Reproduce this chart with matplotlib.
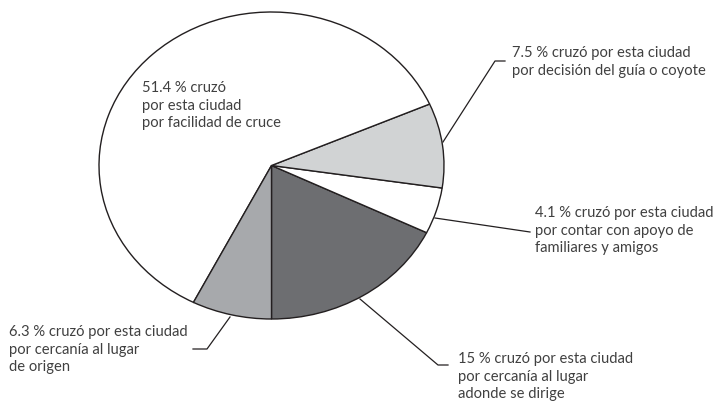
import matplotlib.pyplot as plt

# slice values (%) in drawing order, counter-clockwise from straight down
valores = [15, 4.1, 7.5, 51.4, 6.3]
colores = ['#6d6e71', '#ffffff', '#d1d3d4', '#ffffff', '#a7a9ac']

etiquetas = [
    '15 % cruzó por esta ciudad\npor cercanía al lugar\nadonde se dirige',
    '4.1 % cruzó por esta ciudad\npor contar con apoyo de\nfamiliares y amigos',
    '7.5 % cruzó por esta ciudad\npor decisión del guía o coyote',
    '51.4 % cruzó\npor esta ciudad\npor facilidad de cruce',
    '6.3 % cruzó por esta ciudad\npor cercanía al lugar\nde origen',
]

# text anchor (top-left, px) and leader polylines (px) per label
pos_texto = [(458, 352), (535, 206), (512, 46), (142, 81), (9, 325)]
lineas = [
    [(360, 300), (438, 366), (448, 366)],
    [(435, 219), (530, 233)],
    [(443, 143), (495, 62), (505, 62)],
    None,
    [(230, 318), (207, 350), (193, 350)],
]

W, H = 726, 402
plt.rcParams['font.family'] = ['Lato', 'DejaVu Sans']

fig = plt.figure(figsize=(W / 100, H / 100), dpi=100)
fig.patch.set_facecolor('white')

# elliptical pie: axes box spans the ellipse
x0, x1, y0, y1 = 99, 444, 13, 320
ax = fig.add_axes([x0 / W, 1 - y1 / H, (x1 - x0) / W, (y1 - y0) / H])
wedges, _ = ax.pie(valores, colors=colores, startangle=-90, counterclock=True,
                   wedgeprops=dict(edgecolor='#231f20', linewidth=1.0))
for w in wedges:
    w.set_clip_on(False)
ax.set_aspect('auto')
ax.set_xlim(-1, 1)
ax.set_ylim(-1, 1)
ax.axis('off')


def px(x, y):
    return x / W, 1 - y / H


for txt, (tx, ty), ln in zip(etiquetas, pos_texto, lineas):
    fig.text(*px(tx, ty), txt, ha='left', va='top', fontsize=10.6,
             color='#404040', linespacing=1.33)
    if ln:
        xs = [p[0] / W for p in ln]
        ys = [1 - p[1] / H for p in ln]
        fig.add_artist(plt.Line2D(xs, ys, color='#231f20', lw=0.9,
                                  transform=fig.transFigure))

fig.savefig('out.png', dpi=100)
